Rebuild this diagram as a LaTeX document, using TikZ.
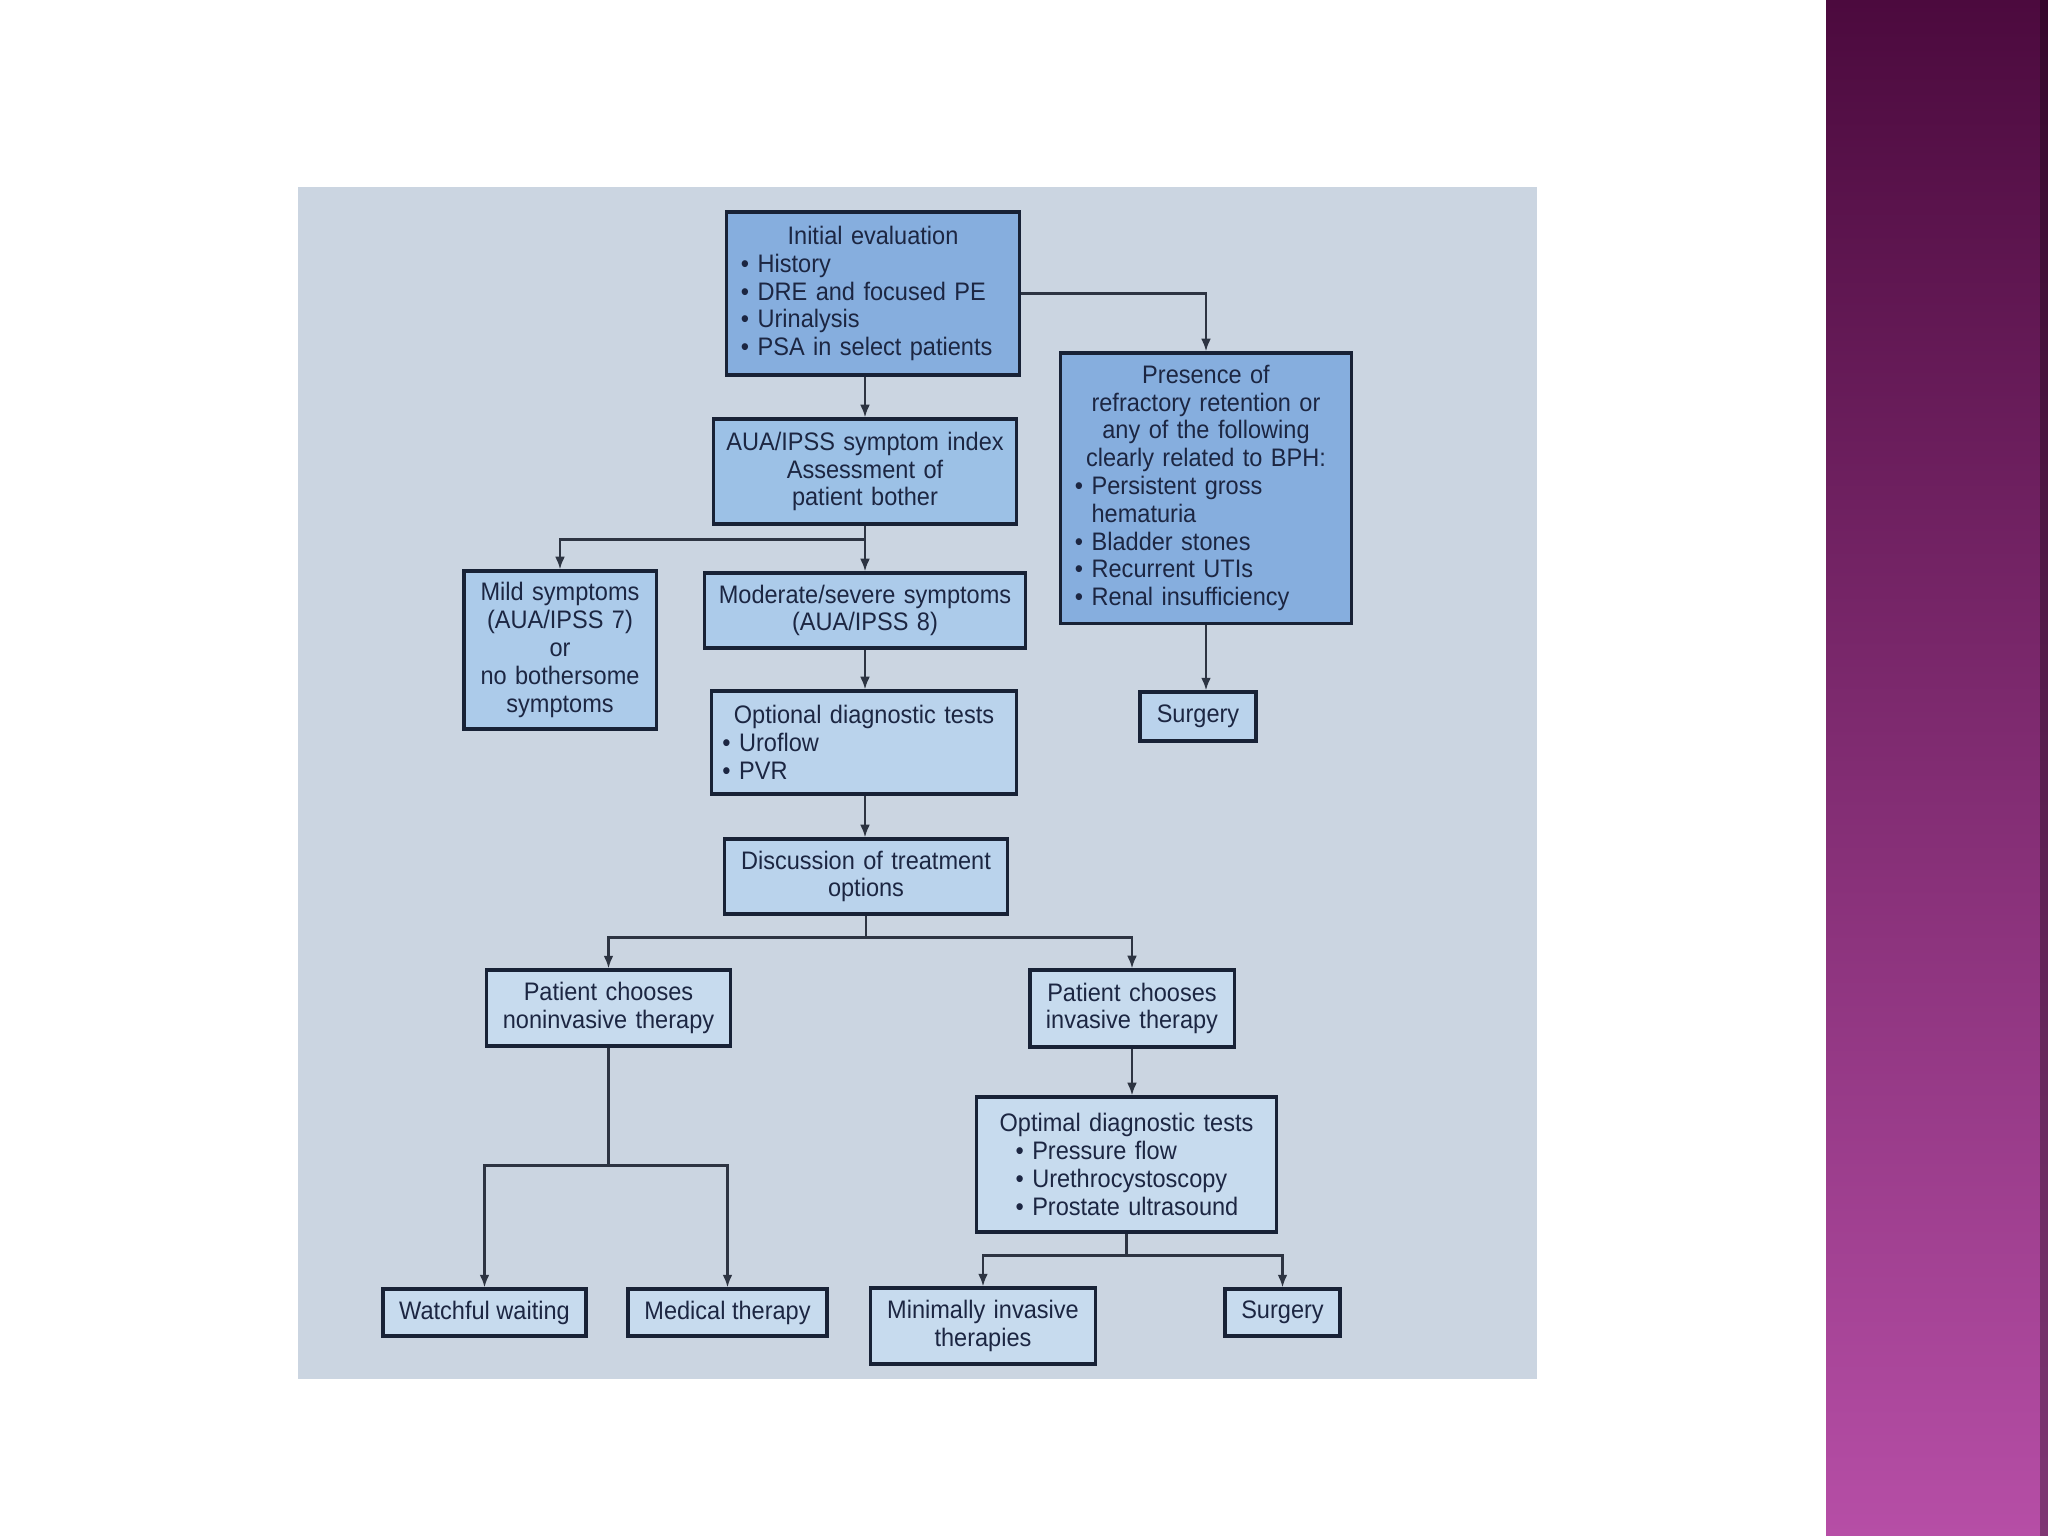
\documentclass[tikz,border=0pt]{standalone}
\usepackage{fontspec}
\setmainfont[FakeStretch=0.93]{Liberation Sans}
\usetikzlibrary{arrows.meta, calc}
\definecolor{slideTop}{RGB}{76,10,62}
\definecolor{slideBot}{RGB}{182,78,166}
\definecolor{photoBg}{RGB}{203,213,225}
\definecolor{boxLine}{RGB}{24,34,54}
\definecolor{lineC}{RGB}{45,52,66}
\definecolor{txtC}{RGB}{28,38,66}
\definecolor{fillA}{RGB}{134,174,222}
\definecolor{fillB}{RGB}{156,193,230}
\definecolor{fillC}{RGB}{172,203,234}
\definecolor{fillD}{RGB}{186,211,236}
\definecolor{fillE}{RGB}{199,219,238}
\tikzset{
  box/.style={draw=boxLine, line width=0.9pt, inner xsep=2pt, inner ysep=2pt,
    font=\fontsize{7.2}{7.9}\selectfont, text=txtC, align=center},
  link/.style={draw=lineC, line width=0.65pt},
  arr/.style={link, -{Latex[length=3.6pt,width=2.8pt]}}
}
\begin{document}
\begin{tikzpicture}[x=0.01cm, y=-0.01cm]
\useasboundingbox (0,0) rectangle (2048,1536);
% ===== slide background =====
\fill[white] (0,0) rectangle (2048,1536);
\shade[top color=slideTop, bottom color=slideBot] (1826,0) rectangle (2048,1536);
\fill[black, opacity=0.3] (2040,0) rectangle (2048,1536);
% ===== photographed chart =====
\fill[photoBg] (298,187) rectangle (1537,1379);
% top row
\node[box, fill=fillA, text width=2.78cm, minimum height=1.63cm, align=left] (init) at (873,293.5)
  {{\centering Initial evaluation\par}\hspace*{2pt}\textbullet\ History\\ \hspace*{2pt}\textbullet\ DRE and focused PE\\
   \hspace*{2pt}\textbullet\ Urinalysis\\ \hspace*{2pt}\textbullet\ PSA in select patients};
\node[box, fill=fillA, text width=2.76cm, minimum height=2.70cm, align=left] (presence) at (1206,488)
  {{\centering Presence of\\ refractory retention or\\ any of the following\\ clearly related to BPH:\par}
   \hspace*{2pt}\textbullet\ Persistent gross\\ \hspace*{2pt}\phantom{\textbullet}\ hematuria\\ \hspace*{2pt}\textbullet\ Bladder stones\\
   \hspace*{2pt}\textbullet\ Recurrent UTIs\\ \hspace*{2pt}\textbullet\ Renal insufficiency};
\node[box, fill=fillB, text width=2.89cm, minimum height=1.05cm] (aua) at (865,471.5)
  {AUA/IPSS symptom index\\ Assessment of\\ patient bother};
% symptom level
\node[box, fill=fillC, text width=1.78cm, minimum height=1.58cm] (mild) at (560,650)
  {Mild symptoms\\ (AUA/IPSS 7)\\ or\\ no bothersome\\ symptoms};
\node[box, fill=fillC, text width=3.06cm, minimum height=0.75cm] (moderate) at (865,610.5)
  {Moderate/severe symptoms\\ (AUA/IPSS 8)};
\node[box, fill=fillD, text width=2.90cm, minimum height=1.03cm, align=left] (optional) at (864,742.5)
  {{\centering Optional diagnostic tests\par}\hspace*{1pt}\textbullet\ Uroflow\\ \hspace*{1pt}\textbullet\ PVR};
\node[box, fill=fillD, minimum width=1.16cm, minimum height=0.49cm] (surgeryA) at (1198,716.5) {Surgery};
\node[box, fill=fillD, text width=2.68cm, minimum height=0.75cm] (discussion) at (866,876.5)
  {Discussion of treatment\\ options};
% patient choice
\node[box, fill=fillE, text width=2.29cm, minimum height=0.76cm] (noninv) at (608.5,1008)
  {Patient chooses\\ noninvasive therapy};
\node[box, fill=fillE, text width=1.90cm, minimum height=0.77cm] (invasive) at (1132,1008.5)
  {Patient chooses\\ invasive therapy};
\node[box, fill=fillE, text width=2.85cm, minimum height=1.35cm, align=left] (optimal) at (1126.5,1164.5)
  {{\centering Optimal diagnostic tests\par}\hspace*{9pt}\textbullet\ Pressure flow\\
   \hspace*{9pt}\textbullet\ Urethrocystoscopy\\ \hspace*{9pt}\textbullet\ Prostate ultrasound};
% outcomes
\node[box, fill=fillE, minimum width=2.03cm, minimum height=0.47cm] (watchful) at (484.5,1312.5) {Watchful waiting};
\node[box, fill=fillE, minimum width=1.99cm, minimum height=0.47cm] (medical) at (727.5,1312.5) {Medical therapy};
\node[box, fill=fillE, text width=2.10cm, minimum height=0.76cm] (minimal) at (983,1326)
  {Minimally invasive\\ therapies};
\node[box, fill=fillE, minimum width=1.15cm, minimum height=0.47cm] (surgeryB) at (1282.5,1312.5) {Surgery};
% ===== connectors =====
\coordinate (j1) at ($(aua.south)+(0,14)$);
\coordinate (j2) at ($(discussion.south)+(0,22)$);
\coordinate (j3) at ($(noninv.south)+(0,118)$);
\coordinate (j4) at ($(optimal.south)+(0,22)$);
\draw[arr] (init.east) -| (presence.north);
\draw[arr] (aua.north |- init.south) -- (aua.north);
\draw[arr] (aua.south) -- (aua.south |- moderate.north);
\draw[arr] (j1) -| (mild.north);
\draw[arr] (aua.south |- moderate.south) -- (aua.south |- optional.north);
\draw[arr] (aua.south |- optional.south) -- (aua.south |- discussion.north);
\draw[arr] (presence.south) -- (presence.south |- surgeryA.north);
\draw[link] (discussion.south) -- (j2);
\draw[arr] (j2) -| (noninv.north);
\draw[arr] (j2) -| (invasive.north);
\draw[link] (noninv.south) -- (j3);
\draw[arr] (j3) -| (watchful.north);
\draw[arr] (j3) -| (medical.north);
\draw[arr] (invasive.south) -- (invasive.south |- optimal.north);
\draw[link] (optimal.south) -- (j4);
\draw[arr] (j4) -| (minimal.north);
\draw[arr] (j4) -| (surgeryB.north);
\end{tikzpicture}
\end{document}
